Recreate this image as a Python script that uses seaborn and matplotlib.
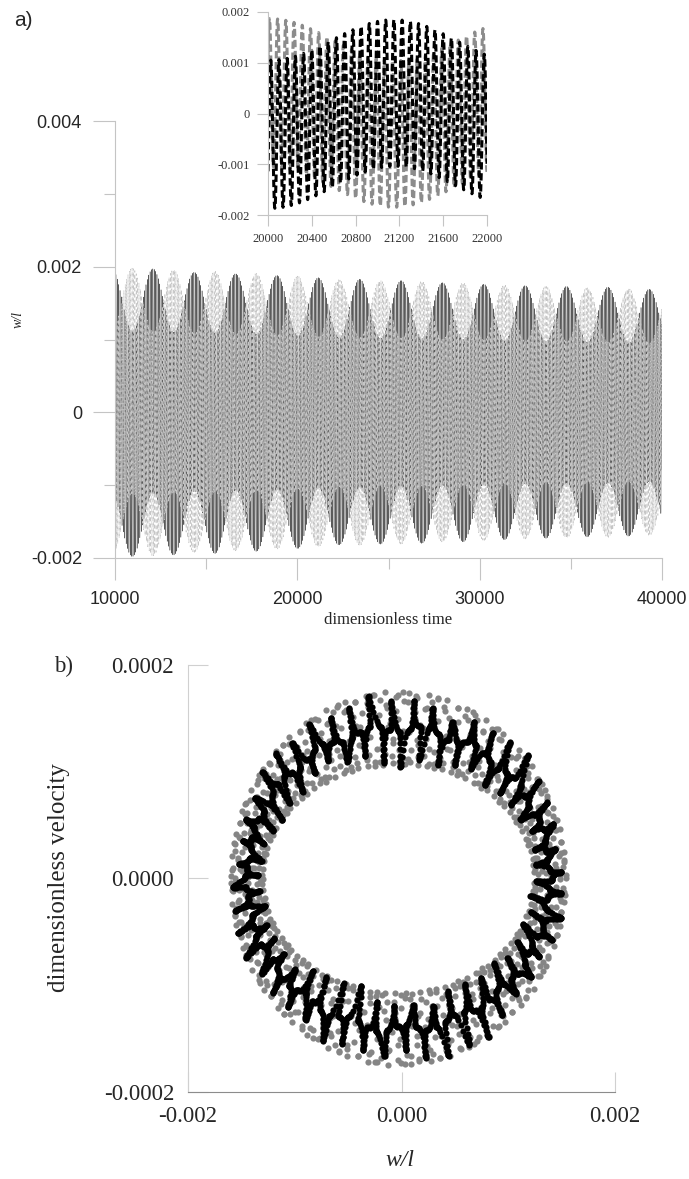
import numpy as np
import pandas as pd
import matplotlib
matplotlib.use("Agg")
import matplotlib.pyplot as plt
from matplotlib.ticker import FixedLocator
import seaborn as sns

sns.set_theme(style="white")
plt.rcParams['font.family'] = ['Liberation Serif', 'DejaVu Serif']
plt.rcParams['axes.unicode_minus'] = False

# ---------------- panel a: two displacement traces w/l ----------------
# times and heights of the upper beat lobes (dark trace) and of the lower lobes
top_lobe_time = [12160, 14430, 16690, 18850, 21120, 23380, 25650,
                 28020, 30180, 32440, 34710, 37080, 39440]
top_lobe_peak = [0.00197, 0.00192, 0.00190, 0.00188, 0.00185, 0.00183, 0.00181,
                 0.00178, 0.00176, 0.00174, 0.00173, 0.00172, 0.00169]
bottom_lobe_time = [10930, 13190, 15460, 17720, 20090, 22350, 24520,
                    26780, 29050, 31310, 33580, 35940, 38210]
bottom_lobe_peak = [-0.00198, -0.00196, -0.00194, -0.00191, -0.00187, -0.00182, -0.00181,
                    -0.00180, -0.00178, -0.00175, -0.00173, -0.00171, -0.00170]
carrier_period = 75.0      # fast oscillation period
slow_share = 0.28          # slow-mode amplitude relative to the fast one
trace_phase_lag = 1.0      # fast-mode phase of the second trace

main_yticks = [-0.002, 0.0, 0.002, 0.004]
main_yticklabels = ["-0.002", "0", "0.002", "0.004"]
main_xticks = [10000, 20000, 30000, 40000]
inset_xticks = [20000, 20400, 20800, 21200, 21600, 22000]
inset_yticks = [-0.002, -0.001, 0.0, 0.001, 0.002]
inset_yticklabels = ["-0.002", "-0.001", "0", "0.001", "0.002"]

# ---------------- panel b: phase portrait ----------------
ring_center_w = -0.00003
ring_radius_w = 0.00142
ring_radius_v = 0.000141
black_spread_w, black_spread_v = 0.095, 0.22
gray_spread_w, gray_spread_v = 0.105, 0.24
hair_cycles, samples_per_cycle = 48, 40
gray_count = 900
b_xticks = [-0.002, 0.0, 0.002]
b_xticklabels = ["-0.002", "0.000", "0.002"]
b_yticks = [-0.0002, 0.0, 0.0002]
b_yticklabels = ["-0.0002", "0.0000", "0.0002"]

# ---- build the traces from the lobe readings ----
lobe_t = np.array(top_lobe_time + bottom_lobe_time, dtype=float)
lobe_h = np.abs(np.array(top_lobe_peak + bottom_lobe_peak))
order = np.argsort(lobe_t)
lobe_t, lobe_h = lobe_t[order], lobe_h[order]
first_is_top = lobe_t[0] in top_lobe_time
lobe_phase = np.pi * np.arange(len(lobe_t)) + (0.0 if first_is_top else np.pi)
slope, icpt = np.polyfit(lobe_t, lobe_phase, 1)

t = np.arange(10000, 40000.01, 2.5)
fast_amp = np.interp(t, lobe_t, lobe_h) / (1 + slow_share)
slow = slow_share * fast_amp * np.cos(slope * t + icpt)
w_dark = fast_amp * np.cos(2 * np.pi * t / carrier_period) + slow
w_light = fast_amp * np.cos(2 * np.pi * t / carrier_period + trace_phase_lag) - slow
traces = pd.DataFrame({"t": t, "w1": w_dark, "w2": w_light})

# ---- phase-portrait samples (stroboscopic orbit with hair-like excursions) ----
N = hair_cycles * samples_per_cycle
n = np.arange(N)
phi = 2 * np.pi * n / samples_per_cycle
# the orbit creeps round the ring while the excursion is small and
# nearly stops near the excursion tips, which leaves curved radial "hairs"
tilt = 0.45 + 0.35 * np.sin(2 * np.pi * n / (samples_per_cycle * 1.37))
creep = np.cos(phi + tilt) ** 4 + 0.06
theta = 0.2 + 2 * np.pi * np.cumsum(creep) / creep.sum()
reach = (0.85 + 0.3 * np.cos(2 * np.pi * n / (samples_per_cycle * 1.618))
         * np.cos(2 * np.pi * n / (samples_per_cycle * 2.118)))
radial = reach * np.sin(phi) ** 3 + 0.12 * np.sin(2 * np.pi * n / (samples_per_cycle * 2.7))
black = pd.DataFrame({
    "w": ring_center_w + ring_radius_w * (1 + black_spread_w * radial) * np.cos(theta),
    "v": -ring_radius_v * (1 + black_spread_v * radial) * np.sin(theta),
})
m = np.arange(gray_count)
gphi = m * 2.39996323
gtheta = 2 * np.pi * m / gray_count + 0.02 * np.sin(m * 1.7)
gray = pd.DataFrame({
    "w": ring_center_w + ring_radius_w * (1 + gray_spread_w * np.cos(gphi)) * np.cos(gtheta),
    "v": -ring_radius_v * (1 + gray_spread_v * np.cos(gphi)) * np.sin(gtheta),
})

# ---------------- figure ----------------
W, H = 689, 1179
fig = plt.figure(figsize=(W / 100, H / 100), dpi=100)


def box(l, r, top, bot):
    return [l / W, 1 - bot / H, (r - l) / W, (bot - top) / H]


def px(x, y):
    return x / W, 1 - y / H


PT = 72 / 100  # points per pixel

# main time-history axes
ax = fig.add_axes(box(115, 662, 121, 558))
sns.lineplot(data=traces, x="t", y="w1", ax=ax, color="#474747", lw=0.32,
             estimator=None, sort=False, errorbar=None)
sns.lineplot(data=traces, x="t", y="w2", ax=ax, color="#c6c6c6", lw=0.45,
             estimator=None, sort=False, errorbar=None, linestyle=(0, (6, 4)))
ax.set_xlim(10000, 40000)
ax.set_ylim(-0.002, 0.004)
ax.set_xticks(main_xticks)
ax.set_xticklabels([str(v) for v in main_xticks], family="Liberation Sans")
ax.xaxis.set_minor_locator(FixedLocator([15000, 25000, 35000]))
ax.set_yticks(main_yticks)
ax.set_yticklabels(main_yticklabels, family="Liberation Sans")
ax.yaxis.set_minor_locator(FixedLocator([-0.001, 0.001, 0.003]))
ax.tick_params(which="major", direction="out", length=22 * PT, width=0.8,
               color="#c4c4c4", labelsize=13, pad=8, bottom=True, left=True)
ax.tick_params(which="minor", direction="out", length=11 * PT, width=0.8,
               color="#c4c4c4", bottom=True, left=True)
for side in ("top", "right"):
    ax.spines[side].set_visible(False)
for side in ("left", "bottom"):
    ax.spines[side].set_color("#c4c4c4")
    ax.spines[side].set_linewidth(0.8)
ax.set_xlabel("")
ax.set_ylabel("")
ax.set_facecolor("none")

# inset: close-up of 20000-22000
axi = fig.add_axes(box(268, 487, 12, 215))
win = traces[(traces.t >= 20000) & (traces.t <= 22000)]
sns.lineplot(data=win, x="t", y="w2", ax=axi, color="#8c8c8c", lw=2.2,
             estimator=None, sort=False, errorbar=None, linestyle=(0, (2.4, 1.2)))
sns.lineplot(data=win, x="t", y="w1", ax=axi, color="#000000", lw=2.2,
             estimator=None, sort=False, errorbar=None, linestyle=(0, (2.4, 1.2)))
axi.set_xlim(20000, 22000)
axi.set_ylim(-0.002, 0.002)
axi.set_xticks(inset_xticks)
axi.set_xticklabels([str(v) for v in inset_xticks])
axi.set_yticks(inset_yticks)
axi.set_yticklabels(inset_yticklabels)
axi.tick_params(direction="out", length=11 * PT, width=0.8, color="#c4c4c4",
                labelsize=9, labelcolor="#333333", pad=5, bottom=True, left=True)
for side in ("top", "right"):
    axi.spines[side].set_visible(False)
for side in ("left", "bottom"):
    axi.spines[side].set_color("#c4c4c4")
    axi.spines[side].set_linewidth(0.8)
axi.set_xlabel("")
axi.set_ylabel("")
axi.set_facecolor("none")

# phase portrait
axb = fig.add_axes(box(188, 615, 665, 1092))
sns.scatterplot(data=gray, x="w", y="v", ax=axb, color="#858585", s=20, linewidth=0)
sns.scatterplot(data=black, x="w", y="v", ax=axb, color="#000000", s=20, linewidth=0)
axb.set_xlim(-0.002, 0.002)
axb.set_ylim(-0.0002, 0.0002)
axb.set_xticks(b_xticks)
axb.set_xticklabels(b_xticklabels)
axb.set_yticks(b_yticks)
axb.set_yticklabels(b_yticklabels)
axb.tick_params(direction="in", length=20 * PT, width=0.8, color="#d0d0d0",
                labelsize=16.5, pad=10, bottom=True, left=True)
for side in ("top", "right"):
    axb.spines[side].set_visible(False)
axb.spines["left"].set_color("#d0d0d0")
axb.spines["bottom"].set_color("#8c8c8c")
for side in ("left", "bottom"):
    axb.spines[side].set_linewidth(0.8)
axb.set_xlabel("")
axb.set_ylabel("")

# titles and axis captions
fig.text(*px(23, 21), "a)", family="Liberation Sans", fontsize=15, ha="center", va="center")
fig.text(*px(18, 320), "w/l", style="italic", fontsize=10, rotation=90, ha="center", va="center")
fig.text(*px(388, 620), "dimensionless time", fontsize=12, ha="center", va="center")
fig.text(*px(64, 666), "b)", fontsize=16.5, ha="center", va="center")
fig.text(*px(59, 878), "dimensionless velocity", fontsize=18, rotation=90, ha="center", va="center")
fig.text(*px(400, 1160), "w/l", style="italic", fontsize=17, ha="center", va="center")

fig.savefig("out.png", dpi=100)
